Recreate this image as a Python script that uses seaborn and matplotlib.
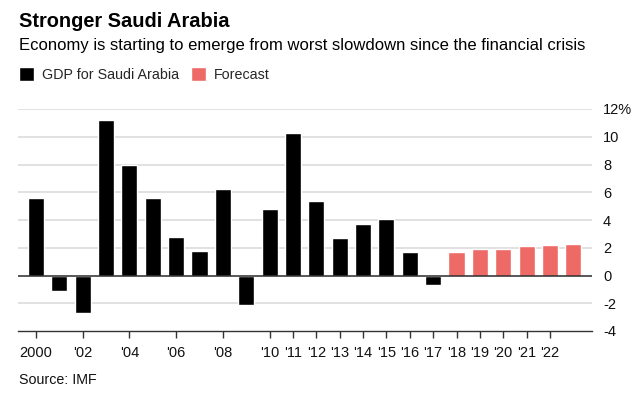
import matplotlib
matplotlib.use("Agg")
import matplotlib.pyplot as plt
import seaborn as sns
import pandas as pd

# ---- data ----
actual_years = list(range(2000, 2018))
gdp = [5.6, -1.1, -2.7, 11.2, 8.0, 5.6, 2.8, 1.8, 6.2, -2.1, 4.8, 10.3, 5.4, 2.7, 3.7, 4.1, 1.7, -0.7]
forecast_years = list(range(2018, 2024))
forecast = [1.7, 1.9, 1.9, 2.1, 2.2, 2.3]
series_names = ["GDP for Saudi Arabia", "Forecast"]
tick_years = [2000, 2002, 2004, 2006, 2008, 2010, 2011, 2012, 2013, 2014, 2015,
              2016, 2017, 2018, 2019, 2020, 2021, 2022]
tick_labels = ["2000", "'02", "'04", "'06", "'08", "'10", "'11", "'12", "'13", "'14",
               "'15", "'16", "'17", "'18", "'19", "'20", "'21", "'22"]
y_ticks = [-4, -2, 0, 2, 4, 6, 8, 10, 12]
y_labels = ["-4", "-2", "0", "2", "4", "6", "8", "10", "12%"]

df = pd.DataFrame({
    "year": actual_years + forecast_years,
    "value": gdp + forecast,
    "series": [series_names[0]] * len(gdp) + [series_names[1]] * len(forecast),
})

sns.set_theme(style="white")
plt.rcParams["font.family"] = ["Liberation Sans", "DejaVu Sans"]

fig = plt.figure(figsize=(6.4, 3.97), dpi=100)
ax = fig.add_axes([18 / 640, 1 - 331 / 397, (592 - 18) / 640, (331 - 109) / 397])

order = actual_years + forecast_years
sns.barplot(data=df, x="year", y="value", hue="series", order=order,
            palette={series_names[0]: "#000000", series_names[1]: "#ee6a67"},
            dodge=False, width=0.69, saturation=1, ax=ax, zorder=3)

handles, labels = ax.get_legend_handles_labels()
if ax.get_legend() is not None:
    ax.get_legend().remove()

ax.set_ylim(-4, 12)
ax.set_xlim(-0.77, 23.8)
ax.set_xlabel("")
ax.set_ylabel("")

# gridlines
for yv in y_ticks:
    if yv == -4:
        continue
    if yv == 0:
        ax.axhline(0, color="#2a2a2a", lw=1.1, zorder=4)
    else:
        ax.axhline(yv, color="#dcdcdc", lw=1.2, zorder=1)

ax.set_xticks([order.index(y) for y in tick_years])
ax.set_xticklabels(tick_labels)
ax.tick_params(axis="x", length=5, width=1, color="#333333", pad=6,
               labelsize=10.5, labelcolor="#111111", bottom=True)

ax.yaxis.tick_right()
ax.set_yticks(y_ticks)
ax.set_yticklabels(y_labels)
ax.tick_params(axis="y", length=0, pad=8, labelsize=10.5, labelcolor="#111111")

for s in ["top", "left", "right"]:
    ax.spines[s].set_visible(False)
ax.spines["bottom"].set_color("#333333")
ax.spines["bottom"].set_linewidth(1.0)

fig.text(19 / 640, 1 - 27 / 397, "Stronger Saudi Arabia", fontsize=14.4,
         fontweight="bold", color="#000000", va="baseline", ha="left")
fig.text(19 / 640, 1 - 50 / 397,
         "Economy is starting to emerge from worst slowdown since the financial crisis",
         fontsize=12, color="#000000", va="baseline", ha="left")
fig.text(19 / 640, 1 - 384 / 397, "Source: IMF", fontsize=10.3, color="#111111",
         va="baseline", ha="left")

fig.legend(handles, labels, loc="center left", bbox_to_anchor=(19 / 640, 1 - 74.5 / 397),
           ncol=2, frameon=False, fontsize=10.3, handlelength=1.05, handleheight=1.15,
           handletextpad=0.55, columnspacing=0.85, borderpad=0, borderaxespad=0)

fig.savefig("out.png", dpi=100, facecolor="white")
